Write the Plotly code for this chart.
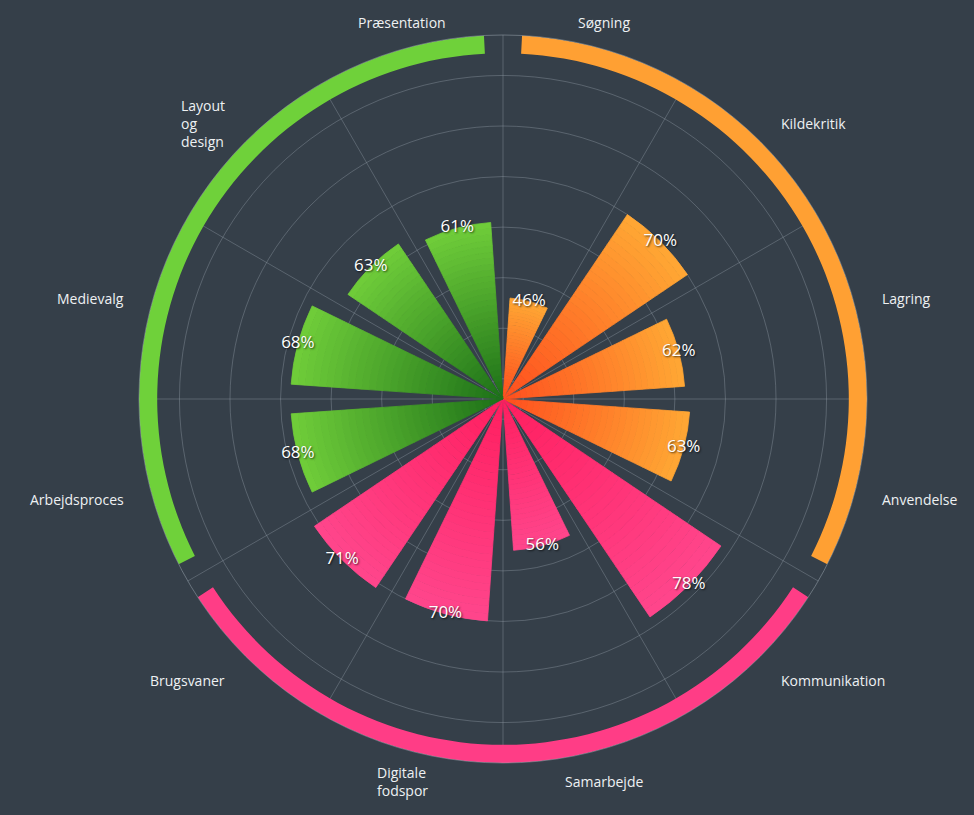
import math
import plotly.graph_objects as go

# ---- data ----
categories = ["Søgning", "Kildekritik", "Lagring", "Anvendelse",
              "Kommunikation", "Samarbejde", "Digitale<br>fodspor", "Brugsvaner",
              "Arbejdsproces", "Medievalg", "Layout<br>og<br>design", "Præsentation"]
values = [46, 70, 62, 63, 78, 56, 70, 71, 68, 68, 63, 61]
groups = ["Søg", "Søg", "Søg", "Søg",
          "Kom", "Kom", "Kom", "Kom",
          "Pro", "Pro", "Pro", "Pro"]
group_names = ["Søg", "Kom", "Pro"]

# ---- style ----
BG = "#353f49"
inner_col = {"Søg": (255, 78, 30), "Kom": (255, 30, 95), "Pro": (28, 112, 24)}
outer_col = {"Søg": (255, 168, 52), "Kom": (255, 70, 140), "Pro": (112, 206, 58)}
ring_col = {"Søg": "#ffa033", "Kom": "#ff3d86", "Pro": "#6fd13a"}

R_MIN, R_MAX = 26, 98
RING_BASE = 94.4
N = len(categories)
step = 360 / N
thetas = [step / 2 + step * i for i in range(N)]
BAR_W = 22

fig = go.Figure()

# gradient bars: drawn as radial bands
NB = 30
def mix(a, b, t):
    return "rgb(%d,%d,%d)" % tuple(round(a[k] + (b[k] - a[k]) * t) for k in range(3))

for k in range(NB):
    t0, t1 = k / NB, (k + 1) / NB
    bases = [R_MIN + (v - R_MIN) * t0 for v in values]
    tops = [(v - R_MIN) * (t1 - t0) for v in values]
    cols = [mix(inner_col[g], outer_col[g], (t0 + t1) / 2) for g in groups]
    fig.add_trace(go.Barpolar(
        r=tops, base=bases, theta=thetas, width=[BAR_W] * N,
        marker=dict(color=cols, line=dict(width=0.8, color=cols)),
        subplot="polar", showlegend=False, hoverinfo="skip"))

# outer group ring
for g in group_names:
    idx = [i for i, gg in enumerate(groups) if gg == g]
    center = sum(thetas[i] for i in idx) / len(idx)
    fig.add_trace(go.Barpolar(
        r=[R_MAX - RING_BASE], base=[RING_BASE], theta=[center],
        width=[step * len(idx) - 6],
        marker=dict(color=ring_col[g], line=dict(width=0)),
        subplot="polar", showlegend=False, hoverinfo="skip"))

# value labels
fig.add_trace(go.Scatterpolar(
    r=values, theta=thetas, mode="text",
    text=["%d%%" % v for v in values],
    textfont=dict(size=17, color="white", family="Open Sans",
                  shadow="1px 1px 2px rgba(0,0,0,0.7)"),
    subplot="polar", showlegend=False, hoverinfo="skip", cliponaxis=False))

cx, cy, rad = 503, 399, 364
W, H = 974, 815
dom_x = [(cx - rad) / W, (cx + rad) / W]
dom_y = [(H - cy - rad) / H, (H - cy + rad) / H]

# category labels around the chart (Highcharts-like placement)
LABEL_R = 390
annotations = []
for th, name in zip(thetas, categories):
    a = math.radians(th)
    px = cx + LABEL_R * math.sin(a)
    py = cy - LABEL_R * math.cos(a)
    s = math.sin(a)
    if abs(s) < 0.35:
        xa = "center"
    elif s > 0:
        xa = "left"
    else:
        xa = "right"
    if math.cos(a) < -0.5:
        py += 6
    annotations.append(dict(
        x=px / W, y=(H - py) / H, xref="paper", yref="paper",
        text=name, showarrow=False, xanchor=xa, yanchor="middle", align="left",
        font=dict(size=14, color="#eef1f3", family="Open Sans")))

grid = "rgba(150,160,170,0.38)"
fig.update_layout(
    width=W, height=H,
    paper_bgcolor=BG, plot_bgcolor=BG,
    margin=dict(l=0, r=0, t=0, b=0),
    annotations=annotations,
    polar=dict(
        domain=dict(x=dom_x, y=dom_y),
        bgcolor=BG,
        radialaxis=dict(range=[R_MIN, R_MAX], tickvals=[30, 40, 50, 60, 70, 80, 90],
                        showticklabels=False, ticks="", showline=False,
                        gridcolor=grid, gridwidth=1),
        angularaxis=dict(type="linear", thetaunit="degrees", direction="clockwise",
                         rotation=90, tickvals=[step * i for i in range(N)],
                         showticklabels=False, ticks="", gridcolor=grid,
                         showline=True, linecolor="rgba(150,160,170,0.55)", linewidth=1),
    ),
)

fig.write_html("out.html", config={"displayModeBar": False},
               post_script="document.body.style.margin='0';document.body.style.overflow='hidden';")
